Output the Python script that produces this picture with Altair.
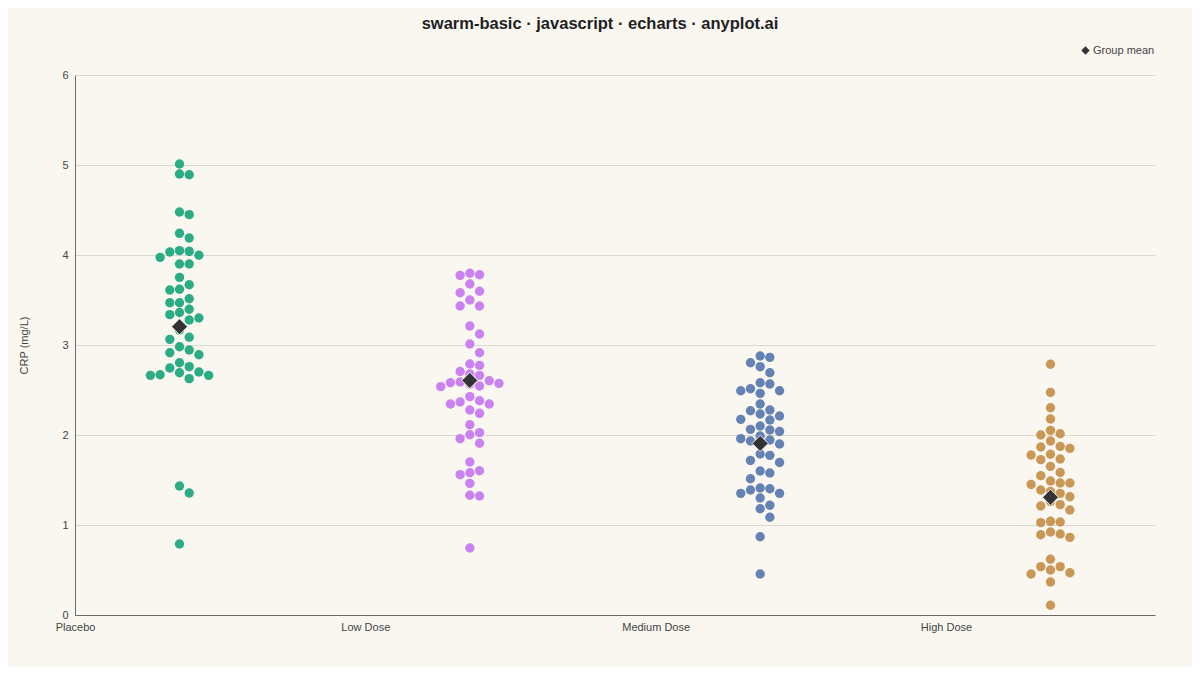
"""Swarm plot of CRP by dose group, with group-mean diamonds."""

import altair as alt
import pandas as pd

# ── Data (CRP in mg/L, listed high → low as they are stacked) ─────
GROUPS = ["Placebo", "Low Dose", "Medium Dose", "High Dose"]
COLOURS = ["#2BAC85", "#CB82F1", "#6582B4", "#C99856"]

PLACEBO = [
    5.011, 4.900, 4.892, 4.478, 4.448, 4.241, 4.189, 4.048, 4.041, 4.033,
    3.997, 3.974, 3.900, 3.900, 3.752, 3.670, 3.619, 3.611, 3.514, 3.470,
    3.470, 3.397, 3.361, 3.337, 3.300, 3.278, 3.167, 3.086, 3.063, 2.981,
    2.944, 2.914, 2.892, 2.803, 2.759, 2.744, 2.700, 2.692, 2.670, 2.663,
    2.663, 2.626, 1.433, 1.356, 0.789,
]
LOW_DOSE = [
    3.797, 3.781, 3.774, 3.678, 3.597, 3.581, 3.500, 3.433, 3.433, 3.211,
    3.122, 3.011, 2.914, 2.789, 2.774, 2.706, 2.678, 2.663, 2.603, 2.589,
    2.581, 2.574, 2.567, 2.544, 2.537, 2.426, 2.381, 2.367, 2.344, 2.344,
    2.278, 2.241, 2.114, 2.026, 2.003, 1.959, 1.908, 1.700, 1.603, 1.581,
    1.559, 1.463, 1.330, 1.322, 0.744,
]
MEDIUM_DOSE = [
    2.878, 2.863, 2.803, 2.759, 2.692, 2.581, 2.567, 2.514, 2.492, 2.492,
    2.463, 2.344, 2.278, 2.270, 2.233, 2.211, 2.174, 2.167, 2.100, 2.063,
    2.056, 2.039, 1.989, 1.959, 1.944, 1.933, 1.900, 1.789, 1.774, 1.717,
    1.694, 1.600, 1.578, 1.514, 1.411, 1.403, 1.389, 1.352, 1.352, 1.300,
    1.219, 1.181, 1.086, 0.870, 0.456,
]
HIGH_DOSE = [
    2.786, 2.474, 2.303, 2.178, 2.052, 2.014, 2.000, 1.933, 1.874, 1.867,
    1.852, 1.786, 1.778, 1.733, 1.726, 1.652, 1.583, 1.548, 1.489, 1.467,
    1.467, 1.450, 1.389, 1.372, 1.352, 1.314, 1.261, 1.226, 1.211, 1.167,
    1.041, 1.033, 1.026, 0.922, 0.900, 0.892, 0.863, 0.619, 0.537, 0.537,
    0.500, 0.470, 0.456, 0.367, 0.108,
]
GROUP_MEANS = [3.203, 2.606, 1.906, 1.308]

# ── Style tokens ──────────────────────────────────────────────────
PAPER = "#FAF7F1"
INK = "#1F1F1F"
INK_SOFT = "#444444"
AXIS_LINE = "#6B6B6B"
RULE = "#DCD9D2"
MEAN_FILL = "#333333"
FONT = "Liberation Sans"
SMALL = 11

WIDTH, HEIGHT = 1080, 540
X_DOMAIN = [-0.36, 3.36]
Y_DOMAIN = [0, 6]
PX_PER_X = WIDTH / (X_DOMAIN[1] - X_DOMAIN[0])
PX_PER_Y = HEIGHT / (Y_DOMAIN[1] - Y_DOMAIN[0])
COL_STEP_PX = 9.7   # horizontal spacing between swarm columns
DOT_GAP_PX = 9.6    # min vertical gap between dots sharing a column


def swarm_columns(values):
    """Greedy beeswarm: each dot takes the first free column 0, +1, -1, +2, ..."""
    gap = DOT_GAP_PX / PX_PER_Y
    placed, cols = [], []
    for v in values:
        k = 0
        while True:
            c = ((k + 1) // 2) * (1 if k % 2 else -1)
            if all(abs(v - pv) >= gap for pv, pc in placed if pc == c):
                break
            k += 1
        placed.append((v, c))
        cols.append(c)
    return cols


rows = []
for i, (name, vals) in enumerate(zip(GROUPS, [PLACEBO, LOW_DOSE, MEDIUM_DOSE, HIGH_DOSE])):
    for v, c in zip(vals, swarm_columns(vals)):
        rows.append({"group": name, "crp": v, "xpos": i + c * COL_STEP_PX / PX_PER_X})
points_df = pd.DataFrame(rows)

means_df = pd.DataFrame({
    "group": GROUPS,
    "crp": GROUP_MEANS,
    "xpos": list(range(len(GROUPS))),
    "label": ["Group mean"] * len(GROUPS),
})

tick_values = [X_DOMAIN[0] + i for i in range(len(GROUPS))]
label_expr = (
    "[" + ",".join(f"'{g}'" for g in GROUPS) + "]"
    + f"[round(datum.value - ({X_DOMAIN[0]}))]"
)

x_enc = alt.X(
    "xpos:Q",
    scale=alt.Scale(domain=X_DOMAIN, nice=False, zero=False),
    axis=alt.Axis(
        title=None, values=tick_values, labelExpr=label_expr, labelFlush=False,
        grid=False, ticks=False, domainColor=AXIS_LINE, labelColor=INK_SOFT,
        labelFontSize=SMALL, labelPadding=6, labelFont=FONT,
    ),
)
y_enc = alt.Y(
    "crp:Q",
    scale=alt.Scale(domain=Y_DOMAIN, nice=False),
    axis=alt.Axis(
        title="CRP (mg/L)", values=list(range(0, 7)), format="d", grid=True,
        gridColor=RULE, ticks=False, domainColor=AXIS_LINE, labelColor=INK_SOFT,
        labelFontSize=SMALL, labelPadding=7, labelFont=FONT, titleFont=FONT,
        titleFontSize=SMALL, titleFontWeight="normal", titleColor=INK_SOFT,
        titlePadding=32,
    ),
)

dots = (
    alt.Chart(points_df)
    .mark_circle(size=88, opacity=1)
    .encode(
        x=x_enc,
        y=y_enc,
        color=alt.Color("group:N", scale=alt.Scale(domain=GROUPS, range=COLOURS), legend=None),
    )
)

means = (
    alt.Chart(means_df)
    .mark_point(filled=True, size=260, color=MEAN_FILL, stroke="#F2F2F2", strokeWidth=1, opacity=1)
    .encode(
        x="xpos:Q",
        y="crp:Q",
        shape=alt.Shape(
            "label:N",
            scale=alt.Scale(domain=["Group mean"], range=["diamond"]),
            legend=alt.Legend(
                title=None, orient="none", legendX=1005, legendY=-30,
                symbolSize=70, symbolFillColor=MEAN_FILL, symbolStrokeWidth=0,
                labelFont=FONT, labelFontSize=SMALL, labelColor=INK_SOFT, labelOffset=2,
            ),
        ),
    )
)

chart = (
    alt.layer(dots, means)
    .properties(
        width=WIDTH,
        height=HEIGHT,
        autosize=alt.AutoSizeParams(type="none"),
        padding={"left": 67, "top": 67, "right": 37, "bottom": 52},
        background=PAPER,
        title=alt.TitleParams(
            "swarm-basic · javascript · echarts · anyplot.ai",
            font=FONT, fontSize=16.5, fontWeight="bold", color=INK,
            anchor="middle", dx=-15, offset=13,
        ),
    )
    .configure_view(stroke=None)
)

chart.save("out.html", embed_options={"renderer": "svg", "actions": False})
